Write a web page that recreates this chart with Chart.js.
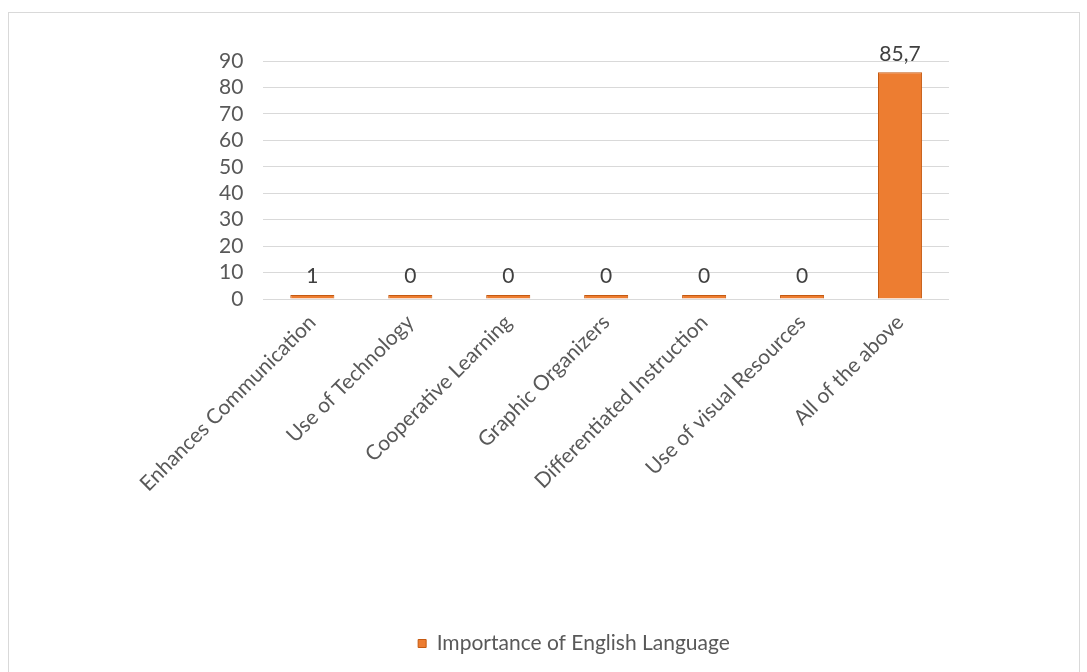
<!DOCTYPE html>
<html>
<head>
<meta charset="utf-8">
<script src="https://cdn.jsdelivr.net/npm/chart.js@4"></script>
<style>
  body { margin: 0; background: #fff; }
  #box { position: absolute; left: 8px; top: 12px; width: 1070px; height: 670px; border: 1px solid #d9d9d9; }
  canvas { display: block; }
</style>
</head>
<body>
<div id="box"><canvas id="chart"></canvas></div>
<script>
const categories = ['Enhances Communication', 'Use of Technology', 'Cooperative Learning',
  'Graphic Organizers', 'Differentiated Instruction', 'Use of visual Resources', 'All of the above'];
const values = [1, 0, 0, 0, 0, 0, 85.7];
const seriesName = 'Importance of English Language';

const valueLabels = {
  id: 'valueLabels',
  afterDatasetsDraw(chart) {
    const ctx = chart.ctx;
    const meta = chart.getDatasetMeta(0);
    ctx.save();
    ctx.font = '21px Lato, sans-serif';
    ctx.fillStyle = '#404040';
    ctx.textAlign = 'center';
    ctx.textBaseline = 'bottom';
    meta.data.forEach((bar, i) => {
      const txt = String(values[i]).replace('.', ',');
      ctx.fillText(txt, bar.x, bar.y - 8);
    });
    ctx.restore();
  }
};

new Chart(document.getElementById('chart').getContext('2d'), {
  type: 'bar',
  data: {
    labels: categories,
    datasets: [{
      label: seriesName,
      data: values,
      backgroundColor: '#ED7D31',
      borderColor: '#C55A11',
      borderWidth: 1,
      barPercentage: 0.45,
      categoryPercentage: 1,
      minBarLength: 4
    }]
  },
  options: {
    responsive: true,
    maintainAspectRatio: false,
    animation: false,
    layout: { padding: { top: 48, left: 190, right: 130, bottom: 19 } },
    plugins: {
      legend: {
        position: 'bottom',
        labels: {
          color: '#595959',
          font: { family: 'Lato, sans-serif', size: 21 },
          boxWidth: 8, boxHeight: 8
        }
      },
      tooltip: { enabled: false }
    },
    scales: {
      y: {
        min: 0, max: 90,
        ticks: { stepSize: 10, autoSkip: false, color: '#595959', padding: 20, font: { family: 'Lato, sans-serif', size: 21 } },
        grid: { color: '#d9d9d9', drawTicks: false },
        border: { display: false }
      },
      x: {
        afterFit(scale) { scale.height = 324; },
        ticks: { minRotation: 45, maxRotation: 45, color: '#595959', font: { family: 'Lato, sans-serif', size: 21 } },
        grid: { display: false },
        border: { display: false }
      }
    }
  },
  plugins: [valueLabels]
});
</script>
</body>
</html>
